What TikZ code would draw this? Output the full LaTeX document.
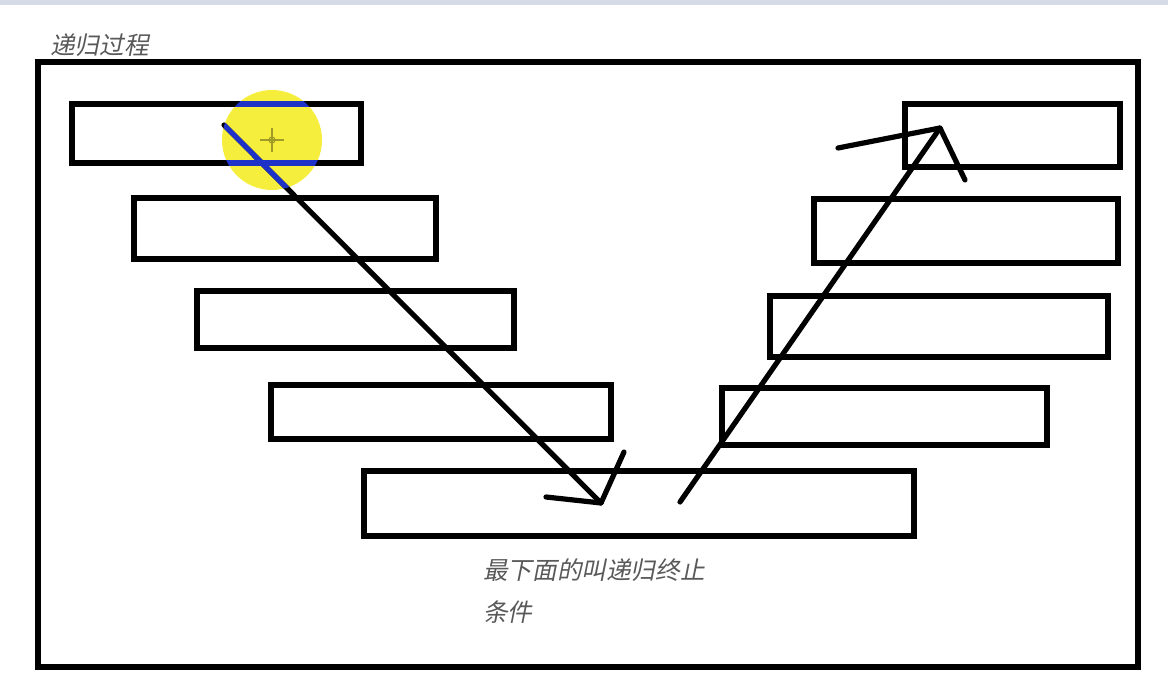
\documentclass[tikz,border=0pt]{standalone}
\usepackage{fontspec}
\newfontfamily\cjk[FakeSlant=0.2]{Noto Sans CJK SC}
\usepackage{tikz}
\usetikzlibrary{calc}
\definecolor{topbar}{RGB}{214,219,232}
\definecolor{hiliteyellow}{RGB}{246,238,60}
\definecolor{hiliteblue}{RGB}{30,50,200}
\tikzset{
	stroke/.style={line width=0.13cm, line cap=round, line join=round},
	frame/.style={line width=0.13cm, line join=miter},
	note/.style={font=\cjk\fontsize{17.5}{20}\selectfont, text=black!65, anchor=west, inner sep=0pt}
}

\begin{document}
\begin{tikzpicture}[x=0.025cm, y=-0.025cm]
			%%%%% START %%%%%
			\useasboundingbox (0, 0) rectangle (1168, 694);
			\fill[topbar] (0, 0) rectangle (1168, 5);
			
			\node[note] (title) at (50, 45) {递归过程};
			\draw[line width=0.17cm] (38, 62) rectangle (1138, 667);
			
			\fill[hiliteyellow] (272, 140) circle (50);
			
			% going down
			\draw[frame] (72, 104) rectangle (361, 163);
			\draw[frame] (134, 198) rectangle (436, 259);
			\draw[frame] (197, 291) rectangle (514, 348);
			\draw[frame] (271, 385) rectangle (611, 439);
			
			% bottom one
			\draw[frame] (364, 471) rectangle (914, 536);
			
			% going up
			\draw[frame] (905, 104) rectangle (1120, 167);
			\draw[frame] (814, 199) rectangle (1118, 263);
			\draw[frame] (770, 296) rectangle (1108, 357);
			\draw[frame] (722, 388) rectangle (1047, 445);
			
			\coordinate (downstart) at (224, 125);
			\coordinate (downend) at (601, 503);
			\coordinate (downwingA) at (546, 497);
			\coordinate (downwingB) at (624, 452);
			\draw[stroke] (downstart) -- (downend);
			\draw[stroke] (downwingA) -- (downend) -- (downwingB);
			
			\coordinate (upstart) at (680, 502);
			\coordinate (upend) at (940, 128);
			\coordinate (upwingA) at (838, 148);
			\coordinate (upwingB) at (965, 180);
			\draw[stroke] (upstart) -- (upend);
			\draw[stroke] (upwingA) -- (upend) -- (upwingB);
			
			% highlight over the pen
			\begin{scope}
				\clip (272, 140) circle (50);
				\draw[frame, hiliteblue] (72, 104) rectangle (361, 163);
				\draw[stroke, hiliteblue] (downstart) -- (downend);
			\end{scope}
			\draw[line width=0.4mm, color=black!35!hiliteyellow] (260, 140) -- (284, 140) (272, 128) -- (272, 152);
			\draw[line width=0.3mm, color=black!35!hiliteyellow] (272, 140) circle (3);
			
			\node[note] (endnote) at (483, 570) {最下面的叫递归终止};
			\node[note] (endnote2) at (483, 612) {条件};
			%%%%% END %%%%%
\end{tikzpicture}
\end{document}
